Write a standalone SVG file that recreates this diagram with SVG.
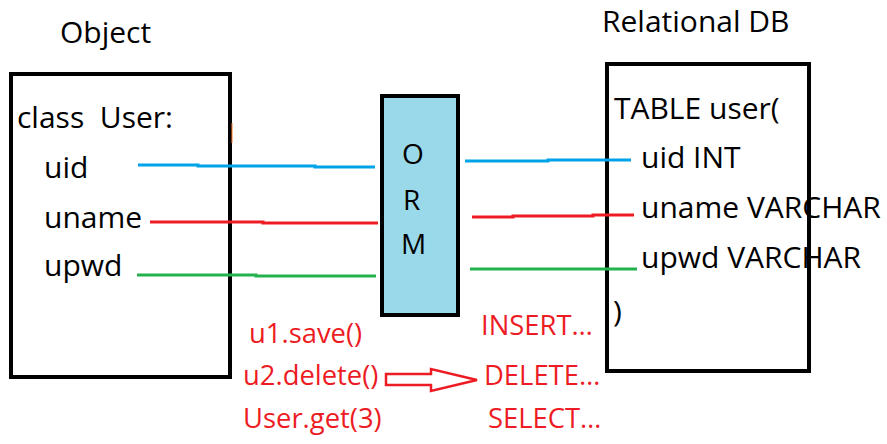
<svg xmlns="http://www.w3.org/2000/svg" width="887" height="444" viewBox="0 0 887 444">
<style>
text{font-family:"Open Sans","Noto Sans",sans-serif;font-size:30px;fill:#000;white-space:pre}
.r{fill:#ED1C24;font-size:27.4px}
.o{font-size:28px}
.box{fill:#fff;stroke:#000;stroke-width:4}
.ln{stroke-width:3;fill:none}
</style>
<rect width="887" height="444" fill="#fff"/>
<text x="60" y="43">Object</text>
<text x="602" y="32">Relational DB</text>
<g id="object">
<rect class="box" x="11" y="74" width="219" height="303"/>
<text x="17" y="128" xml:space="preserve">class  User:</text>
<text x="44" y="178">uid</text>
<text x="44" y="228">uname</text>
<text x="44" y="276">upwd</text>
</g>
<line x1="232" y1="123" x2="232" y2="143" stroke="#FF7F27" stroke-width="1"/>
<g id="orm">
<rect x="382" y="96" width="76" height="219" fill="#99D9EA" stroke="#000" stroke-width="4"/>
<text class="o" x="402" y="164">O</text>
<text class="o" x="403" y="210">R</text>
<text class="o" x="401" y="254">M</text>
</g>
<g id="db">
<rect class="box" x="607" y="64" width="202" height="307"/>
<text x="614" y="119">TABLE user(</text>
<text x="641" y="168">uid INT</text>
<text x="641" y="218">uname VARCHAR</text>
<text x="641" y="268">upwd VARCHAR</text>
<text x="613" y="322">)</text>
</g>
<g id="connectors">
<polyline class="ln" stroke="#00A2E8" points="138,165 198,165 198,166 315,166 315,167 375,167"/>
<polyline class="ln" stroke="#ED1C24" points="150,222 263,222 263,223 378,223"/>
<polyline class="ln" stroke="#22B14C" points="137,275 256,275 256,276 376,276"/>
<polyline class="ln" stroke="#00A2E8" points="465,161 548,161 548,160 631,160"/>
<polyline class="ln" stroke="#ED1C24" points="472,217 513,217 513,216 593,216 593,215 634,215"/>
<polyline class="ln" stroke="#22B14C" points="470,269 637,269"/>
<polygon points="386,374 431,374 431,369 477,380 431,391 431,385 386,385" fill="none" stroke="#ED1C24" stroke-width="2.5"/>
</g>
<g id="calls">
<text class="r" x="249" y="343">u1.save()</text>
<text class="r" x="243" y="385">u2.delete()</text>
<text class="r" x="243" y="428">User.get(3)</text>
<text class="r" x="481" y="335">INSERT…</text>
<text class="r" x="484" y="385">DELETE…</text>
<text class="r" x="488" y="428">SELECT…</text>
</g>
</svg>
